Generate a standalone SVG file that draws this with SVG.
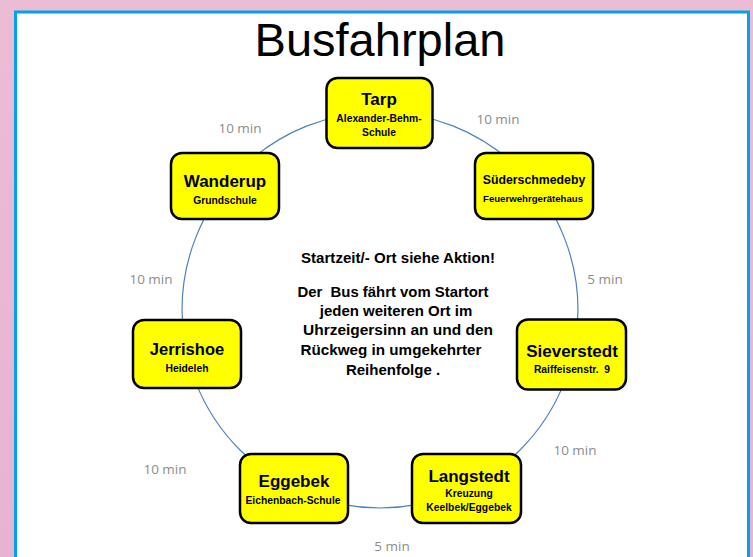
<svg xmlns="http://www.w3.org/2000/svg" width="753" height="557" viewBox="0 0 753 557">
  <defs>
    <linearGradient id="bg" x1="0" y1="0" x2="0" y2="1">
      <stop offset="0" stop-color="#EBBDD5"/>
      <stop offset="1" stop-color="#E7B3D1"/>
    </linearGradient>
  </defs>
  <style>
    text { white-space: pre; }
    .box { fill: #FFFF00; stroke: #000; stroke-width: 2.5; }
    .t { font-family: "Liberation Sans", Arial, sans-serif; font-weight: bold; fill: #000; text-anchor: middle; }
    .big { font-size: 17px; }
    .small { font-size: 10.3px; }
    .min { font-family: "Open Sans", "Liberation Sans", sans-serif; font-size: 13.5px; fill: #8C8C8C; text-anchor: middle; }
    .para { font-family: "Liberation Sans", Arial, sans-serif; font-weight: bold; font-size: 15px; fill: #000; text-anchor: middle; }
  </style>
  <rect x="0" y="0" width="753" height="557" fill="url(#bg)"/>
  <rect x="15.5" y="12" width="733" height="600" fill="#FFFFFF" stroke="#00A2E8" stroke-width="3"/>

  <text x="380" y="56" font-family="Liberation Sans, Arial, sans-serif" font-size="47" fill="#000" text-anchor="middle">Busfahrplan</text>

  <g id="connectors">
    <circle cx="380" cy="310" r="198" fill="none" stroke="#4F81BD" stroke-width="1.2"/>
  </g>

  <g id="minutes">
    <text class="min" x="240" y="133">10 min</text>
    <text class="min" x="498" y="124">10 min</text>
    <text class="min" x="605" y="284">5 min</text>
    <text class="min" x="575" y="455">10 min</text>
    <text class="min" x="392" y="551">5 min</text>
    <text class="min" x="165" y="474">10 min</text>
    <text class="min" x="151" y="284">10 min</text>
  </g>

  <g id="info">
    <text class="para" x="398" y="263" textLength="194" lengthAdjust="spacingAndGlyphs">Startzeit/- Ort siehe Aktion!</text>
    <text class="para" x="393" y="297" textLength="191" lengthAdjust="spacingAndGlyphs">Der  Bus fährt vom Startort</text>
    <text class="para" x="396" y="316">jeden weiteren Ort im</text>
    <text class="para" x="398" y="335" textLength="190" lengthAdjust="spacingAndGlyphs">Uhrzeigersinn an und den</text>
    <text class="para" x="391" y="355" textLength="181" lengthAdjust="spacingAndGlyphs">Rückweg in umgekehrter</text>
    <text class="para" x="393" y="375">Reihenfolge .</text>
  </g>

  <g id="tarp">
    <rect class="box" x="326.5" y="78" width="106" height="70" rx="11"/>
    <text class="t big" x="379" y="105">Tarp</text>
    <text class="t small" x="379" y="122">Alexander-Behm-</text>
    <text class="t small" x="379" y="136">Schule</text>
  </g>

  <g id="suederschmedeby">
    <rect class="box" x="475" y="153" width="118" height="66" rx="11"/>
    <text class="t" x="534" y="184" font-size="12.3">Süderschmedeby</text>
    <text class="t" x="533" y="202" font-size="9.6" textLength="100" lengthAdjust="spacingAndGlyphs">Feuerwehrgerätehaus</text>
  </g>

  <g id="sieverstedt">
    <rect class="box" x="517" y="319.5" width="109" height="70" rx="11"/>
    <text class="t big" x="572" y="357">Sieverstedt</text>
    <text class="t small" x="572" y="373">Raiffeisenstr.  9</text>
  </g>

  <g id="langstedt">
    <rect class="box" x="412" y="454" width="109" height="69" rx="11"/>
    <text class="t big" x="469" y="482">Langstedt</text>
    <text class="t small" x="469" y="497">Kreuzung</text>
    <text class="t small" x="469" y="511">Keelbek/Eggebek</text>
  </g>

  <g id="eggebek">
    <rect class="box" x="240" y="454" width="108" height="69" rx="11"/>
    <text class="t big" x="294" y="487">Eggebek</text>
    <text class="t small" x="293" y="504">Eichenbach-Schule</text>
  </g>

  <g id="jerrishoe">
    <rect class="box" x="133" y="320" width="108" height="68" rx="11"/>
    <text class="t" x="187" y="355" font-size="16.5">Jerrishoe</text>
    <text class="t small" x="187" y="372">Heideleh</text>
  </g>

  <g id="wanderup">
    <rect class="box" x="171" y="153" width="108" height="66" rx="11"/>
    <text class="t big" x="225" y="187">Wanderup</text>
    <text class="t small" x="225" y="204">Grundschule</text>
  </g>
</svg>
